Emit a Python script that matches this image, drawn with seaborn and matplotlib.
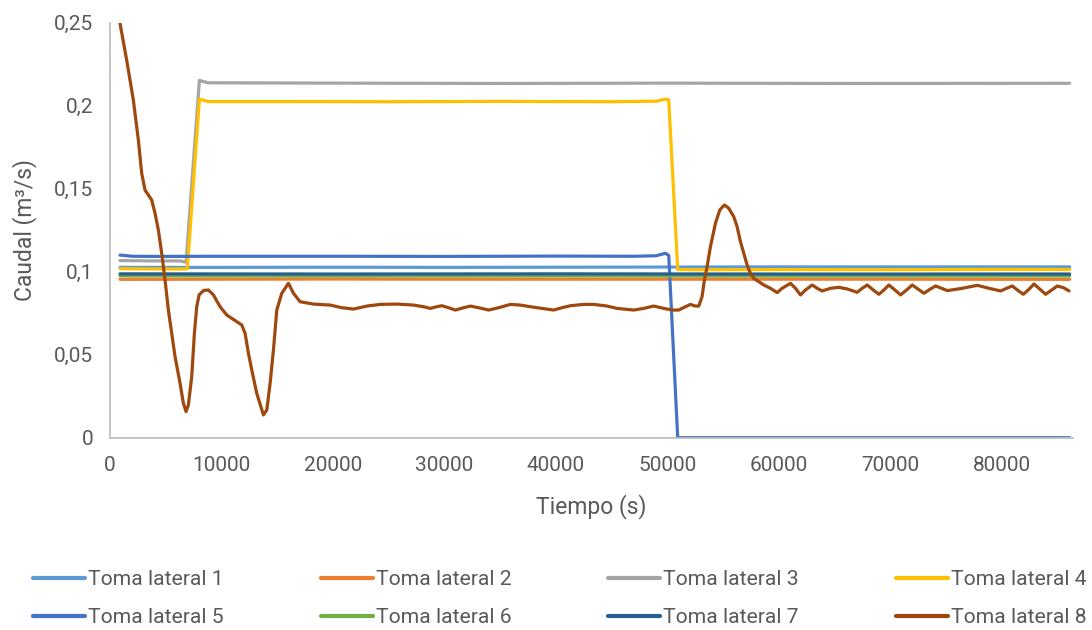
import matplotlib
matplotlib.use("Agg")
import matplotlib.pyplot as plt
from matplotlib.lines import Line2D
import pandas as pd
import seaborn as sns

# --- Series: time (s) and discharge (m³/s) for each lateral intake ---
series_names = ["Toma lateral 1", "Toma lateral 2", "Toma lateral 3", "Toma lateral 4",
                "Toma lateral 5", "Toma lateral 6", "Toma lateral 7", "Toma lateral 8"]
series_colors = ["#5B9BD5", "#ED7D31", "#A5A5A5", "#FFC000",
                 "#4472C4", "#70AD47", "#255E91", "#9E480E"]

t_1 = [900, 10000, 20000, 30000, 40000, 50000, 60000, 70000, 86100]
q_1 = [0.1026, 0.1026, 0.1027, 0.1026, 0.1027, 0.1028, 0.1029, 0.1029, 0.1029]

t_2 = [900, 10000, 20000, 30000, 40000, 50000, 60000, 70000, 86100]
q_2 = [0.0954, 0.0955, 0.0956, 0.0955, 0.0955, 0.0955, 0.0955, 0.0955, 0.0954]

t_3 = [900, 4000, 6300, 6823, 8020, 8800, 20000, 35000, 50000, 65000, 86100]
q_3 = [0.1067, 0.1065, 0.1065, 0.1057, 0.2152, 0.2138, 0.2136, 0.2134, 0.2136, 0.2134, 0.2135]

t_4 = [900, 3000, 6000, 6940, 8020, 8800, 15000, 25000, 35000, 45000, 49000,
       49830, 50130, 50935, 52000, 60000, 70000, 80000, 86100]
q_4 = [0.1018, 0.1017, 0.1016, 0.1017, 0.2040, 0.2025, 0.2025, 0.2024, 0.2026, 0.2024, 0.2027,
       0.2040, 0.2035, 0.1013, 0.1012, 0.1013, 0.1012, 0.1014, 0.1013]

t_5 = [900, 2000, 4000, 10000, 20000, 30000, 40000, 47000, 49000, 49830, 50130, 50935, 52000, 86100]
q_5 = [0.1100, 0.1093, 0.1092, 0.1093, 0.1093, 0.1092, 0.1094, 0.1093, 0.1096, 0.1111, 0.1098,
       0.0, 0.0, 0.0]

t_6 = [900, 20000, 40000, 60000, 86100]
q_6 = [0.0975, 0.0974, 0.0975, 0.0974, 0.0974]

t_7 = [900, 20000, 40000, 60000, 86100]
q_7 = [0.0987, 0.0986, 0.0987, 0.0986, 0.0986]

t_8 = [898, 1496, 2095, 2544, 2843, 3142, 3741, 4040, 4339, 4639, 4938, 5237, 5536, 5836,
       6285, 6584, 6823, 7033, 7332, 7572, 7781, 7991, 8380, 8828, 9277, 9876, 10475, 10923,
       11372, 11821, 12120, 12420, 12719, 13168, 13767, 14066, 14365, 14664, 14964, 15413,
       16011, 16460, 17059, 18256, 19752, 20800, 21847, 23044, 24241, 25738, 27234, 28132,
       28731, 29330, 29778, 30377, 30975, 31723, 32322, 33070, 33968, 34866, 35913, 36811,
       37709, 38756, 39804, 40552, 41300, 42497, 43395, 44592, 45490, 46986, 47884, 48782,
       49680, 50428, 51026, 51625, 52074, 52523, 52822, 53121, 53331, 53570, 53870, 54319,
       54708, 55127, 55516, 55965, 56264, 56563, 56863, 57162, 57461, 57760, 58209, 58658,
       59257, 59855, 60304, 61052, 61501, 61950, 62399, 62998, 63447, 63896, 64644, 65393,
       66141, 67039, 67488, 67937, 68475, 68984, 69433, 69882, 70420, 70929, 71468, 71977,
       72515, 73024, 73563, 74071, 74610, 75119, 76465, 77811, 78859, 79907, 80445, 80954,
       81403, 81942, 82450, 82899, 83438, 83947, 84486, 84995, 85533, 86042]
q_8 = [0.2496, 0.2275, 0.2034, 0.1793, 0.1593, 0.1492, 0.1432, 0.1352, 0.1251, 0.1111, 0.0950,
       0.0769, 0.0629, 0.0488, 0.0328, 0.0207, 0.0157, 0.0197, 0.0368, 0.0629, 0.0789, 0.0860,
       0.0886, 0.0890, 0.0860, 0.0789, 0.0739, 0.0719, 0.0699, 0.0679, 0.0629, 0.0508, 0.0408,
       0.0267, 0.0137, 0.0167, 0.0328, 0.0528, 0.0769, 0.0870, 0.0930, 0.0870, 0.0819, 0.0805,
       0.0799, 0.0783, 0.0775, 0.0793, 0.0803, 0.0805, 0.0799, 0.0789, 0.0779, 0.0789, 0.0795,
       0.0783, 0.0769, 0.0783, 0.0793, 0.0783, 0.0769, 0.0783, 0.0803, 0.0799, 0.0789, 0.0779,
       0.0769, 0.0783, 0.0795, 0.0803, 0.0803, 0.0793, 0.0779, 0.0769, 0.0779, 0.0793, 0.0779,
       0.0769, 0.0769, 0.0789, 0.0803, 0.0793, 0.0793, 0.0850, 0.0950, 0.1030, 0.1151, 0.1291,
       0.1372, 0.1402, 0.1382, 0.1331, 0.1271, 0.1181, 0.1111, 0.1040, 0.0990, 0.0960, 0.0940,
       0.0920, 0.0900, 0.0874, 0.0900, 0.0930, 0.0900, 0.0860, 0.0890, 0.0920, 0.0900, 0.0884,
       0.0900, 0.0906, 0.0896, 0.0876, 0.0900, 0.0920, 0.0890, 0.0864, 0.0890, 0.0920, 0.0890,
       0.0860, 0.0890, 0.0920, 0.0894, 0.0870, 0.0894, 0.0914, 0.0900, 0.0886, 0.0900, 0.0918,
       0.0900, 0.0884, 0.0900, 0.0914, 0.0890, 0.0864, 0.0894, 0.0926, 0.0894, 0.0864, 0.0890,
       0.0914, 0.0904, 0.0884]

x_ticks = [0, 10000, 20000, 30000, 40000, 50000, 60000, 70000, 80000]
x_tick_labels = ["0", "10000", "20000", "30000", "40000", "50000", "60000", "70000", "80000"]
y_ticks = [0, 0.05, 0.1, 0.15, 0.2, 0.25]
y_tick_labels = ["0", "0,05", "0,1", "0,15", "0,2", "0,25"]

x_label = "Tiempo (s)"
y_label = "Caudal (m³/s)"

# --- Long-form table ---
times = [t_1, t_2, t_3, t_4, t_5, t_6, t_7, t_8]
flows = [q_1, q_2, q_3, q_4, q_5, q_6, q_7, q_8]
frames = [pd.DataFrame({"tiempo": t, "caudal": q, "serie": name})
          for t, q, name in zip(times, flows, series_names)]
df = pd.concat(frames, ignore_index=True)

sns.set_theme(style="white")
plt.rcParams["font.family"] = ["Roboto", "DejaVu Sans"]

text_color = "#595959"
axis_color = "#BFBFBF"
tick_fs = 15
label_fs = 16.5
legend_fs = 15.2

fig = plt.figure(figsize=(10.92, 6.30), dpi=100)
ax = fig.add_axes([110 / 1092, 1 - 437.7 / 630, (1073 - 110) / 1092, (437.7 - 22.7) / 630])

sns.lineplot(data=df, x="tiempo", y="caudal", hue="serie", hue_order=series_names,
             palette=series_colors, estimator=None, sort=False, linewidth=2.3,
             legend=False, ax=ax)
for line in ax.get_lines():
    line.set_solid_joinstyle("round")
    line.set_solid_capstyle("round")

ax.set_xlim(0, 86400)
ax.set_ylim(0, 0.25)
ax.set_xticks(x_ticks)
ax.set_xticklabels(x_tick_labels)
ax.set_yticks(y_ticks)
ax.set_yticklabels(y_tick_labels)

for side in ["top", "right"]:
    ax.spines[side].set_visible(False)
for side in ["left", "bottom"]:
    ax.spines[side].set_color(axis_color)
    ax.spines[side].set_linewidth(1.3)

ax.tick_params(axis="both", direction="out", length=7, width=1.3, color=axis_color,
               labelcolor=text_color, labelsize=tick_fs)
ax.tick_params(axis="y", pad=5)
ax.tick_params(axis="x", pad=6)
ax.set_xlabel(x_label, fontsize=label_fs, color=text_color, labelpad=14)
ax.set_ylabel(y_label, fontsize=label_fs, color=text_color, labelpad=12)

# Legend: 2 rows x 4 columns, filled row by row
handles = [Line2D([0], [0], color=c, lw=3) for c in series_colors]
order = [0, 4, 1, 5, 2, 6, 3, 7]
fig.legend([handles[i] for i in order], [series_names[i] for i in order],
           ncol=4, loc="upper left", bbox_to_anchor=(33 / 1092, 1 - 570 / 630),
           frameon=False, fontsize=legend_fs, labelcolor=text_color,
           handlelength=2.46, handletextpad=0.14, columnspacing=4.6, labelspacing=0.9,
           borderaxespad=0, borderpad=0)

fig.savefig("out.png", dpi=100)
